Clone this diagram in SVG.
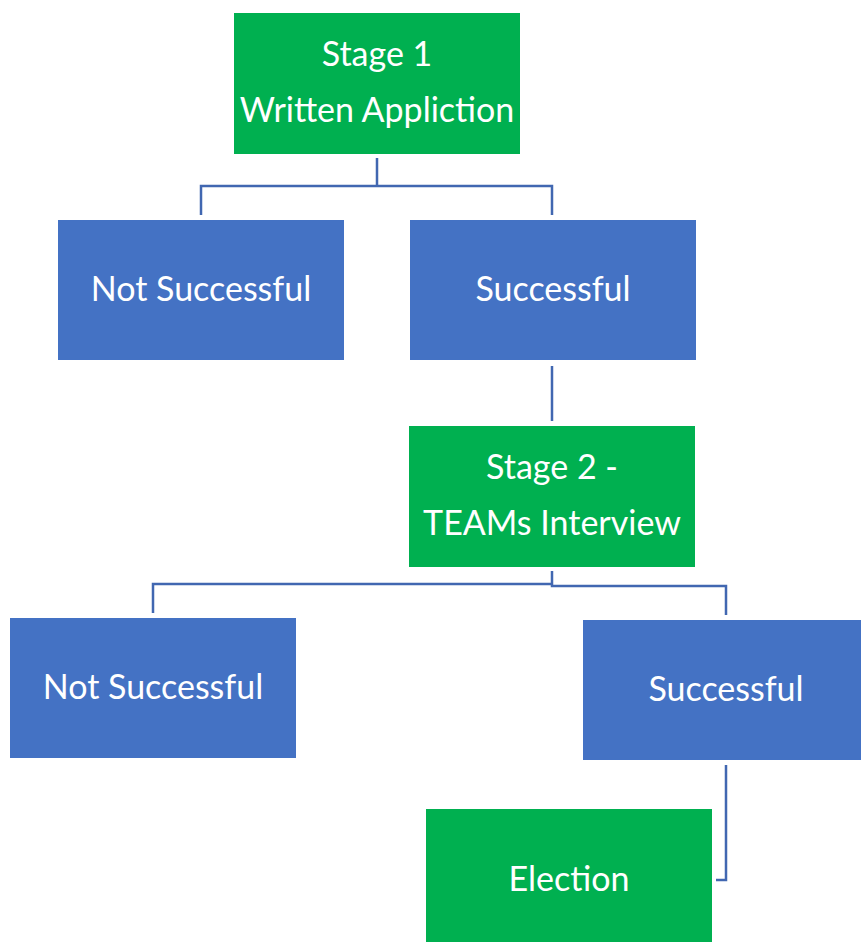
<svg xmlns="http://www.w3.org/2000/svg" width="861" height="942" viewBox="0 0 861 942">
<style>
.g{fill:#00B050}
.b{fill:#4472C4}
text{font-family:Lato,"Liberation Sans",sans-serif;font-size:34px;fill:#fff;text-anchor:middle}
.c{fill:none;stroke:#4167B1;stroke-width:2.5}
</style>
<rect width="861" height="942" fill="#fff"/>
<g id="connectors">
<path class="c" d="M377 158V186H201V215M377 186H552V215"/>
<path class="c" d="M552 366V421"/>
<path class="c" d="M552 571V584H153V613M552 584V586H726V615"/>
<path class="c" d="M726 765V880H716"/>
</g>
<g id="stage1"><rect class="g" x="234" y="13" width="286" height="141"/><text x="377" y="66">Stage 1</text><text x="377" y="122">Written Appliction</text></g>
<g id="notsuccess1"><rect class="b" x="58" y="220" width="286" height="140"/><text x="201" y="301">Not Successful</text></g>
<g id="success1"><rect class="b" x="410" y="220" width="286" height="140"/><text x="553" y="301">Successful</text></g>
<g id="stage2"><rect class="g" x="409" y="426" width="286" height="141"/><text x="552" y="479">Stage 2 -</text><text x="552" y="535">TEAMs Interview</text></g>
<g id="notsuccess2"><rect class="b" x="10" y="618" width="286" height="140"/><text x="153" y="699">Not Successful</text></g>
<g id="success2"><rect class="b" x="583" y="620" width="278" height="140"/><text x="726" y="701">Successful</text></g>
<g id="election"><rect class="g" x="426" y="809" width="286" height="133"/><text x="569" y="891">Election</text></g>
</svg>
